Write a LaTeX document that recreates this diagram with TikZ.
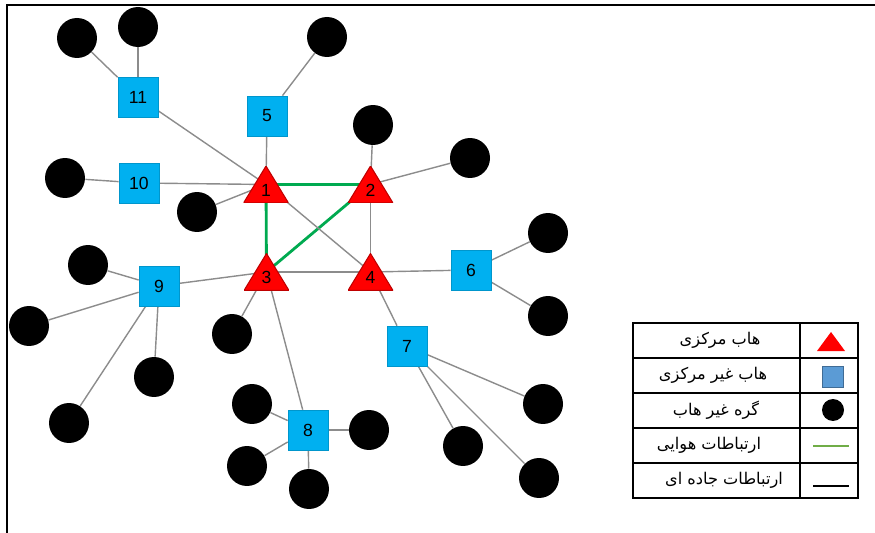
\documentclass[tikz,border=0pt]{standalone}
\usepackage{fontspec}
\setmainfont{Liberation Sans}
\newfontfamily\arabicfont[Script=Arabic]{DejaVu Sans}
\TeXXeTstate=1
\usetikzlibrary{backgrounds}
\definecolor{hubred}{RGB}{255,0,0}
\definecolor{sqblue}{RGB}{0,176,240}
\definecolor{airgreen}{RGB}{0,170,80}
\definecolor{roadgray}{RGB}{140,140,140}
\definecolor{legblue}{RGB}{91,155,213}
\definecolor{leggreen}{RGB}{112,173,71}
\begin{document}
\begin{tikzpicture}[x=0.02cm,y=-0.02cm,
hub/.style={rectangle,minimum width=0.9cm,minimum height=0.74cm,inner sep=0pt,text height=13.4pt,text depth=0pt,font=\fontsize{10}{12}\selectfont,
  path picture={\filldraw[fill=hubred,draw=hubred!75!black,line width=0.6pt] (path picture bounding box.south west)--(path picture bounding box.south east)--(path picture bounding box.north)--cycle;}},
subhub/.style={rectangle,minimum size=0.8cm,inner sep=0pt,fill=sqblue,draw=sqblue!85!black,line width=0.4pt,font=\fontsize{10}{12}\selectfont},
leaf/.style={circle,minimum size=0.8cm,inner sep=0pt,fill=black},
road/.style={draw=roadgray,line width=0.8pt},
air/.style={draw=airgreen,line width=1.6pt},
legtext/.style={font=\arabicfont\fontsize{9.2}{11}\selectfont,inner sep=0pt}]
\useasboundingbox (0,0) rectangle (875,533);
\draw[line width=1.2pt] (875,5)--(7,5)--(7,533);
\node[hub] (h1) at (266,184.5) {1};
\node[hub] (h2) at (370.5,184.5) {2};
\node[hub] (h3) at (266.5,272) {3};
\node[hub] (h4) at (370.5,272) {4};
\node[subhub] (s5) at (267,116) {5};
\node[subhub] (s6) at (471,270) {6};
\node[subhub] (s7) at (407,346) {7};
\node[subhub] (s8) at (308,430) {8};
\node[subhub] (s9) at (159,286) {9};
\node[subhub] (s10) at (139,183) {10};
\node[subhub] (s11) at (138,97) {11};
\node[leaf] (n11a) at (77,38) {};
\node[leaf] (n11b) at (138,27) {};
\node[leaf] (n5) at (327,37) {};
\node[leaf] (n2a) at (373,125) {};
\node[leaf] (n2b) at (470,158) {};
\node[leaf] (n10) at (65,178) {};
\node[leaf] (n1) at (197,212) {};
\node[leaf] (n9a) at (88,265) {};
\node[leaf] (n9b) at (29,326) {};
\node[leaf] (n9c) at (154,377) {};
\node[leaf] (n9d) at (69,423) {};
\node[leaf] (n3) at (232,334) {};
\node[leaf] (n8a) at (252,404) {};
\node[leaf] (n8b) at (247,466) {};
\node[leaf] (n8c) at (309,489) {};
\node[leaf] (n8d) at (369,430) {};
\node[leaf] (n6a) at (548,233) {};
\node[leaf] (n6b) at (548,316) {};
\node[leaf] (n7a) at (543,404) {};
\node[leaf] (n7b) at (463,446) {};
\node[leaf] (n7c) at (539,478) {};
\begin{scope}[on background layer]
\draw[air] (h1.center)--(h2.center);
\draw[air] (h1.center)--(h3.center);
\draw[air] (h2.center)--(h3.center);
\draw[road] (h1.center)--(h4.center);
\draw[road] (h2.center)--(h4.center);
\draw[road] (h3.center)--(h4.center);
\draw[road] (s11)--(h1.center);
\draw[road] (s5)--(h1.center);
\draw[road] (s10)--(h1.center);
\draw[road] (n1)--(h1.center);
\draw[road] (n2a)--(h2.center);
\draw[road] (n2b)--(h2.center);
\draw[road] (s9)--(h3.center);
\draw[road] (n3)--(h3.center);
\draw[road] (s8)--(h3.center);
\draw[road] (s6)--(h4.center);
\draw[road] (s7)--(h4.center);
\draw[road] (n11a)--(s11);
\draw[road] (n11b)--(s11);
\draw[road] (n5)--(s5);
\draw[road] (n10)--(s10);
\draw[road] (n9a)--(s9);
\draw[road] (n9b)--(s9);
\draw[road] (n9c)--(s9);
\draw[road] (n9d)--(s9);
\draw[road] (n8a)--(s8);
\draw[road] (n8b)--(s8);
\draw[road] (n8c)--(s8);
\draw[road] (n8d)--(s8);
\draw[road] (n6a)--(s6);
\draw[road] (n6b)--(s6);
\draw[road] (n7a)--(s7);
\draw[road] (n7b)--(s7);
\draw[road] (n7c)--(s7);
\end{scope}
\draw[line width=0.8pt] (633,323) rectangle (858,498);
\draw[line width=0.8pt] (800,323)--(800,498);
\draw[line width=0.8pt] (633,358)--(858,358);
\draw[line width=0.8pt] (633,393)--(858,393);
\draw[line width=0.8pt] (633,428)--(858,428);
\draw[line width=0.8pt] (633,463)--(858,463);
\node[legtext] (lt1) at (720,340) {\beginR هاب مرکزی\endR};
\node[legtext] (lt2) at (713,375) {\beginR هاب غیر مرکزی\endR};
\node[legtext] (lt3) at (716,410) {\beginR گره غیر هاب\endR};
\node[legtext] (lt4) at (709,445) {\beginR ارتباطات هوایی\endR};
\node[legtext] (lt5) at (724,480) {\beginR ارتباطات جاده ای\endR};
\fill[hubred] (817,351)--(845,351)--(831,332)--cycle;
\node[rectangle,minimum size=0.42cm,inner sep=0pt,fill=legblue,draw=legblue!70!black] (k2) at (833,377) {};
\node[circle,minimum size=0.44cm,inner sep=0pt,fill=black] (k3) at (833,410) {};
\draw[leggreen,line width=1.5pt] (813,446)--(849,446);
\draw[line width=0.6pt] (813,486)--(849,486);
\end{tikzpicture}
\end{document}
